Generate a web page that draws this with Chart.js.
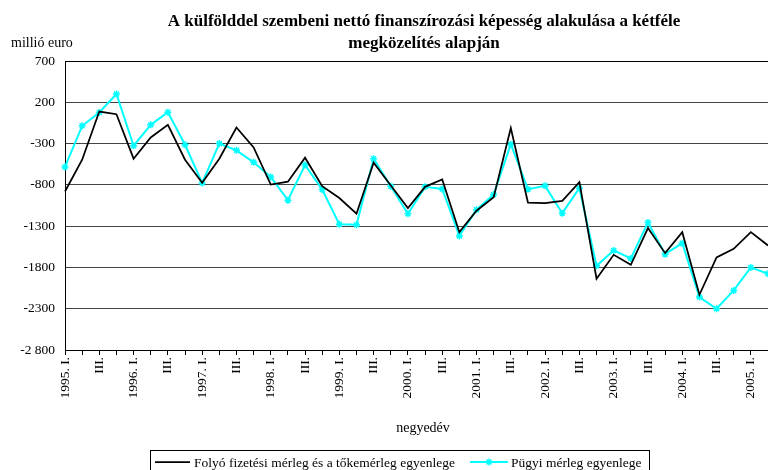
<!DOCTYPE html>
<html>
<head>
<meta charset="utf-8">
<script src="https://cdn.jsdelivr.net/npm/chart.js@4"></script>
<style>
  body { margin: 0; background: #fff; }
  #wrap { width: 768px; height: 470px; }
</style>
</head>
<body>
<div id="wrap"><canvas id="chart" width="768" height="470"></canvas></div>
<script>
const quarters = [
  '1995. I.', '', 'III.', '',
  '1996. I.', '', 'III.', '',
  '1997. I.', '', 'III.', '',
  '1998. I.', '', 'III.', '',
  '1999. I.', '', 'III.', '',
  '2000. I.', '', 'III.', '',
  '2001. I.', '', 'III.', '',
  '2002. I.', '', 'III.', '',
  '2003. I.', '', 'III.', '',
  '2004. I.', '', 'III.', '',
  '2005. I.', ''
];

// folyó fizetési mérleg + tőkemérleg
const folyo = [
  -880, -495, 88, 55, -483, -226, -73, -495, -776, -483, -105, -346,
  -796, -762, -471, -816, -959, -1150, -532, -808, -1080, -824, -735, -1373,
  -1113, -950, -113, -1014, -1022, -994, -768, -1937, -1647, -1768, -1324, -1627,
  -1373, -2131, -1679, -1574, -1373, -1534
];

// pénzügyi mérleg
const pugyi = [
  -583, -85, 76, 300, -326, -73, 80, -314, -776, -300, -382, -527,
  -704, -985, -560, -857, -1276, -1284, -483, -816, -1150, -824, -849, -1418,
  -1101, -918, -308, -852, -812, -1143, -840, -1780, -1594, -1691, -1256, -1639,
  -1506, -2159, -2300, -2078, -1800, -1876
];

const yTicks = [700, 200, -300, -800, -1300, -1800, -2300, -2800];
const yTickLabels = ['700', '200', '-300', '-800', '-1300', '-1800', '-2300', '-2 800'];

const titleLines = ['A külfölddel szembeni nettó finanszírozási képesség alakulása a kétféle', 'megközelítés alapján'];
const legendNames = ['Folyó fizetési mérleg és a tőkemérleg egyenlege', 'Pügyi mérleg egyenlege'];

const SERIF = '"Liberation Serif", "DejaVu Serif", serif';

// texts + legend box drawn by hand
const extras = {
  id: 'extras',
  afterDraw(chart) {
    const ctx = chart.ctx;
    ctx.save();
    ctx.fillStyle = '#000';
    ctx.textAlign = 'center';
    ctx.font = 'bold 17px ' + SERIF;
    ctx.fillText(titleLines[0], 424, 26);
    ctx.fillText(titleLines[1], 424, 48);

    ctx.font = '14px ' + SERIF;
    ctx.textAlign = 'left';
    ctx.fillText('millió euro', 11, 47);

    ctx.textAlign = 'center';
    ctx.fillText('negyedév', 423, 432);

    // legend
    ctx.strokeStyle = '#000';
    ctx.lineWidth = 1;
    ctx.strokeRect(150.5, 450.5, 499, 30);

    ctx.lineWidth = 1.75;
    ctx.beginPath();
    ctx.moveTo(155, 462);
    ctx.lineTo(190, 462);
    ctx.stroke();

    ctx.strokeStyle = '#00ffff';
    ctx.lineWidth = 2;
    ctx.beginPath();
    ctx.moveTo(470, 462);
    ctx.lineTo(508, 462);
    ctx.stroke();
    ctx.lineWidth = 1.5;
    Chart.helpers.drawPoint(ctx, { pointStyle: 'star', radius: 3.5, borderWidth: 1.5 }, 489, 462);

    ctx.font = '13.5px ' + SERIF;
    ctx.textAlign = 'left';
    ctx.textBaseline = 'middle';
    ctx.fillStyle = '#000';
    ctx.fillText(legendNames[0], 194, 463);
    ctx.fillText(legendNames[1], 511, 463);
    ctx.restore();
  }
};

new Chart(document.getElementById('chart'), {
  type: 'line',
  data: {
    labels: quarters,
    datasets: [{
      label: legendNames[0],
      data: folyo,
      borderColor: '#000',
      borderWidth: 1.75,
      pointRadius: 0,
      tension: 0
    }, {
      label: legendNames[1],
      data: pugyi,
      borderColor: '#00ffff',
      backgroundColor: '#00ffff',
      borderWidth: 2,
      pointStyle: 'star',
      pointRadius: 3.5,
      pointBorderWidth: 1.5,
      tension: 0
    }]
  },
  options: {
    responsive: false,
    animation: false,
    layout: { autoPadding: false, padding: { top: 61, left: 0, right: 0, bottom: 0 } },
    plugins: {
      legend: { display: false },
      title: { display: false },
      tooltip: { enabled: false }
    },
    scales: {
      x: {
        offset: false,
        afterFit(scale) {
          scale.height = 120;
          scale.paddingLeft = 0;
          scale.paddingRight = 0;
        },
        grid: { drawOnChartArea: false, drawTicks: true, tickLength: 5, color: '#000' },
        border: { color: '#000', width: 1 },
        ticks: {
          autoSkip: false,
          maxRotation: 90,
          minRotation: 90,
          padding: 2,
          color: '#000',
          font: { family: SERIF, size: 13.5 }
        }
      },
      y: {
        min: -2800,
        max: 700,
        afterFit(scale) { scale.width = 65; },
        afterBuildTicks(scale) { scale.ticks = yTicks.map(v => ({ value: v })); },
        grid: {
          drawTicks: false,
          color: c => c.tick && c.tick.value === 700 ? '#000' : '#444',
          lineWidth: 1
        },
        border: { color: '#000', width: 1 },
        ticks: {
          padding: 10,
          color: '#000',
          font: { family: SERIF, size: 13.5 },
          callback: v => yTickLabels[yTicks.indexOf(v)]
        }
      }
    }
  },
  plugins: [extras]
});
</script>
</body>
</html>
